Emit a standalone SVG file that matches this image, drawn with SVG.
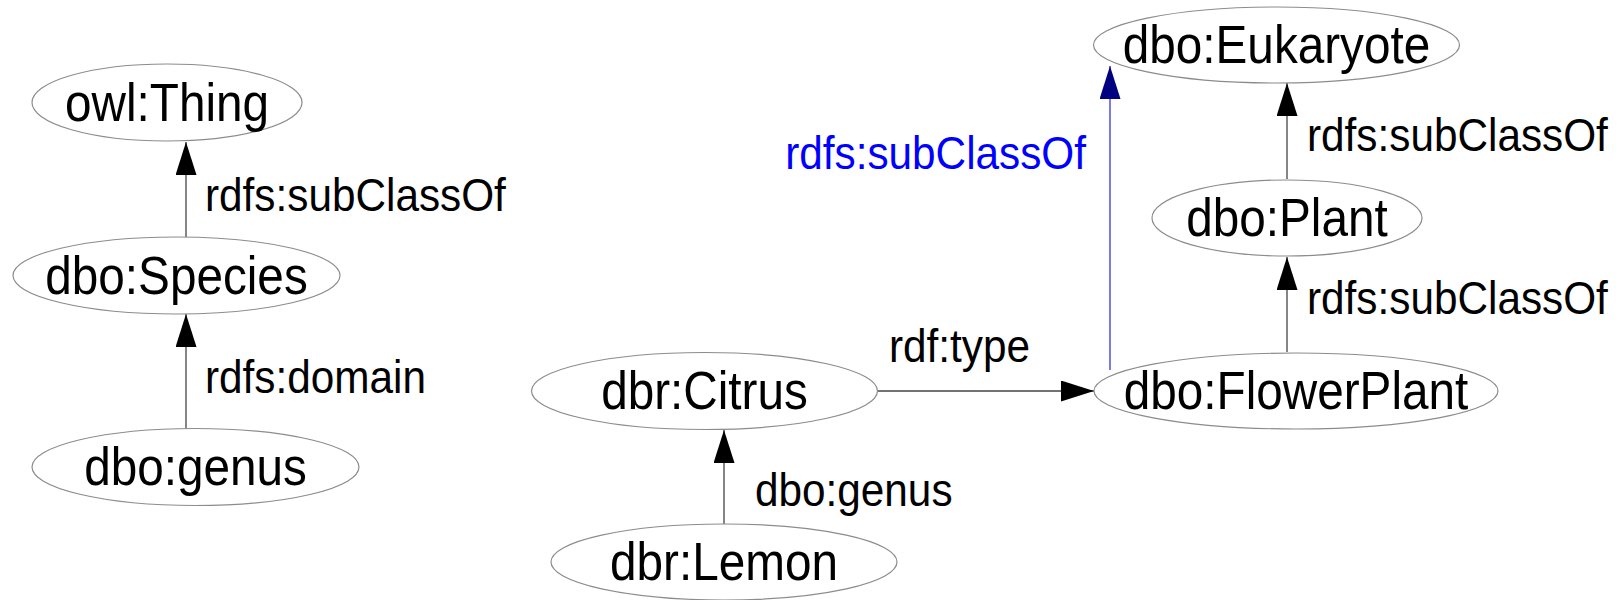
<svg xmlns="http://www.w3.org/2000/svg" width="1624" height="600" viewBox="0 0 1624 600">
<style>
.node ellipse{fill:#fff;stroke:#8c8c8c;stroke-width:1.2}
.node text{font-family:"Liberation Sans",Arial,sans-serif;font-size:53px;fill:#000;text-anchor:middle}
.edge{stroke:#444;stroke-width:1.3;fill:none}
.edge.blue{stroke:#3333dd}
.lbl{font-family:"Liberation Sans",Arial,sans-serif;font-size:47px;fill:#000}
.lbl.blue{fill:#0000ff}
</style>
<defs>
<marker id="ah" markerUnits="userSpaceOnUse" markerWidth="34" markerHeight="22" refX="33" refY="10.5" orient="auto">
<path d="M0,0 L33,10.5 L0,21 z" fill="#000"/>
</marker>
<marker id="ahb" markerUnits="userSpaceOnUse" markerWidth="34" markerHeight="22" refX="33" refY="10.5" orient="auto">
<path d="M0,0 L33,10.5 L0,21 z" fill="#000080"/>
</marker>
</defs>
<rect width="1624" height="600" fill="#fff"/>
<g id="connectors">
<line class="edge" x1="186" y1="237" x2="186" y2="142" marker-end="url(#ah)"/>
<line class="edge" x1="186" y1="429" x2="186" y2="314" marker-end="url(#ah)"/>
<line class="edge" x1="724" y1="524" x2="724" y2="430" marker-end="url(#ah)"/>
<line class="edge" x1="878" y1="391" x2="1094" y2="391" marker-end="url(#ah)"/>
<line class="edge" x1="1287" y1="352" x2="1287" y2="257" marker-end="url(#ah)"/>
<line class="edge" x1="1287" y1="179" x2="1287" y2="83" marker-end="url(#ah)"/>
<line class="edge blue" x1="1110" y1="370" x2="1110" y2="66" marker-end="url(#ahb)"/>
<text class="lbl" transform="translate(205,211) scale(0.9,1)">rdfs:subClassOf</text>
<text class="lbl" transform="translate(205,393) scale(0.9,1)">rdfs:domain</text>
<text class="lbl" transform="translate(755,506) scale(0.9,1)">dbo:genus</text>
<text class="lbl" transform="translate(889,362) scale(0.9,1)">rdf:type</text>
<text class="lbl" transform="translate(1307,151) scale(0.9,1)">rdfs:subClassOf</text>
<text class="lbl" transform="translate(1307,314) scale(0.9,1)">rdfs:subClassOf</text>
<text class="lbl blue" text-anchor="end" transform="translate(1086,169) scale(0.9,1)">rdfs:subClassOf</text>
</g>
<g id="owl-thing" class="node"><ellipse cx="167" cy="102.5" rx="135" ry="38.5"/><text transform="translate(167,121) scale(0.9,1)">owl:Thing</text></g>
<g id="dbo-species" class="node"><ellipse cx="176.5" cy="275.5" rx="163.5" ry="38.5"/><text transform="translate(176.5,294) scale(0.9,1)">dbo:Species</text></g>
<g id="dbo-genus" class="node"><ellipse cx="195.5" cy="467" rx="163.5" ry="38.5"/><text transform="translate(195.5,485) scale(0.9,1)">dbo:genus</text></g>
<g id="dbr-citrus" class="node"><ellipse cx="704.5" cy="391" rx="173" ry="38.5"/><text transform="translate(704.5,409) scale(0.9,1)">dbr:Citrus</text></g>
<g id="dbr-lemon" class="node"><ellipse cx="724" cy="562" rx="173" ry="38"/><text transform="translate(724,580) scale(0.9,1)">dbr:Lemon</text></g>
<g id="dbo-flowerplant" class="node"><ellipse cx="1296" cy="391" rx="202" ry="38"/><text transform="translate(1296,409) scale(0.9,1)">dbo:FlowerPlant</text></g>
<g id="dbo-plant" class="node"><ellipse cx="1287" cy="218" rx="135" ry="38"/><text transform="translate(1287,236) scale(0.9,1)">dbo:Plant</text></g>
<g id="dbo-eukaryote" class="node"><ellipse cx="1276.5" cy="45" rx="183" ry="38"/><text transform="translate(1276.5,63) scale(0.9,1)">dbo:Eukaryote</text></g>
</svg>
